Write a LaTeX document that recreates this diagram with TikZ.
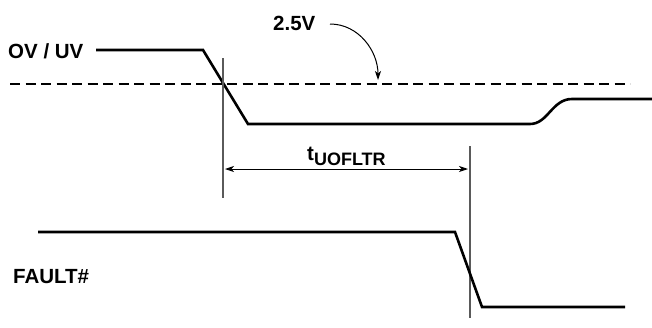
\documentclass[tikz,border=0pt]{standalone}
\usepackage{fontspec}
\setmainfont{Liberation Sans}
\usepackage{xcolor}
\usetikzlibrary{arrows.meta,calc}
\definecolor{GrisGuia}{RGB}{90,90,90}
\tikzset{
  senal/.style={line width=2.6pt,line join=miter},
  guia/.style={GrisGuia,line width=1.2pt},
  etiqueta/.style={font=\bfseries\fontsize{20.5}{22}\selectfont,inner sep=0pt},
}

\begin{document}
\begin{tikzpicture}[x=1pt,y=-1pt,>={Stealth[length=9pt,width=6pt,inset=2.5pt]}]
  \useasboundingbox (0,0) rectangle (652,327);
  % OV / UV
  \node[etiqueta,anchor=west] (ovuv) at (8,51) {OV / UV};
  \draw[senal] (96,50) -- (203,50) -- (248,124) -- (530,124)
    .. controls (548,124) and (552,99) .. (572,99) -- (652,99);
  % umbral 2.5V
  \draw[line width=1.3pt,dash pattern=on 10pt off 5.5pt] (10,84) -- (630,84);
  \node[etiqueta,anchor=west] (umbral) at (273,23) {2.5V};
  \coordinate (umbralA) at (330,24);
  \coordinate (umbralB) at (378,80);
  \draw[->,line width=1pt] (umbralA) to[out=0,in=90] (umbralB);
  % t_UOFLTR
  \coordinate (guiaA) at (223,58);
  \coordinate (guiaB) at (470,146);
  \draw[guia] (guiaA) -- ++(0,140);
  \draw[guia] (guiaB) -- ++(0,172);
  \draw[<->,line width=0.9pt] ($(guiaA|-0,169)+(2,0)$) -- ($(guiaB|-0,169)+(-2,0)$);
  \node[etiqueta,anchor=base west] (tfiltro) at (307,160)
    {t\raisebox{-5pt}{\fontsize{18}{20}\selectfont UOFLTR}};
  % FAULT#
  \node[etiqueta,anchor=west] (fault) at (13,277) {FAULT\#};
  \draw[senal] (38,232) -- (455,232) -- (482,307) -- (625,307);
\end{tikzpicture}
\end{document}
